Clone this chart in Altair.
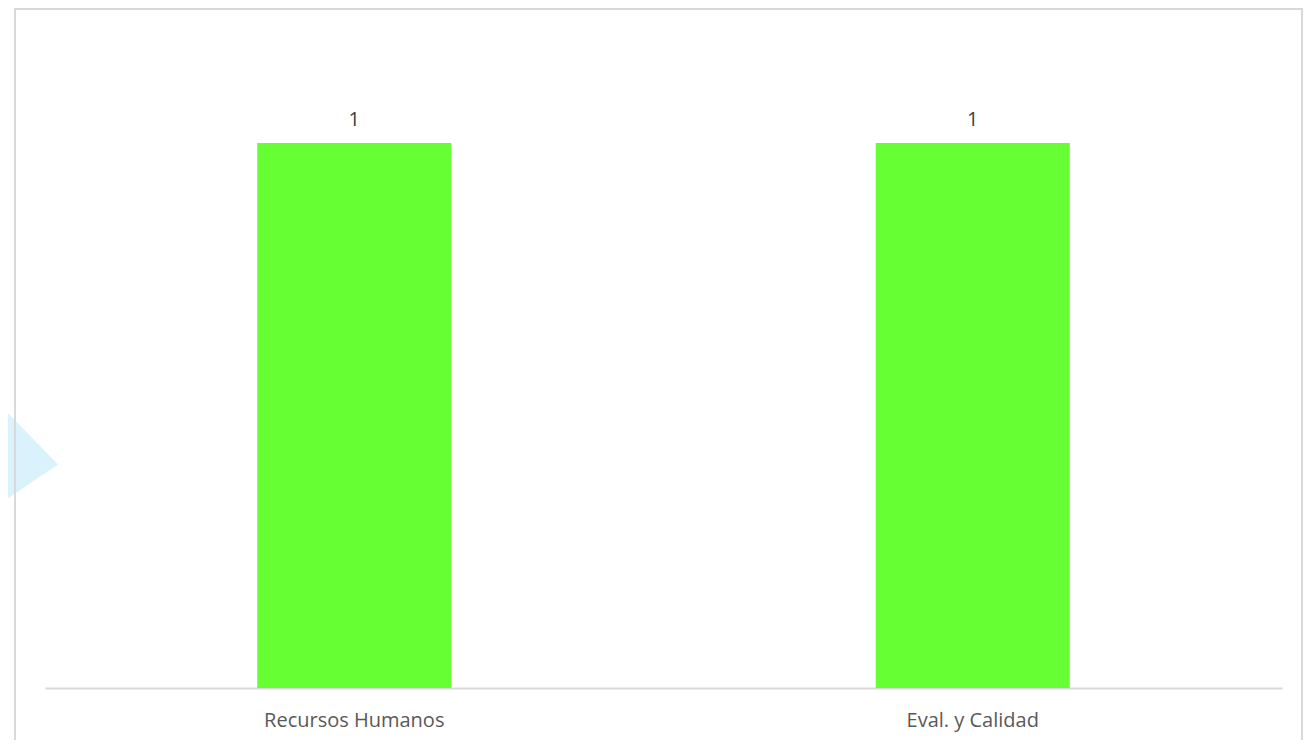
import altair as alt
import pandas as pd

categories = ["Recursos Humanos", "Eval. y Calidad"]
values = [1, 1]

df = pd.DataFrame({"cat": categories, "val": values})

W, H = 1237, 545
FONT = "Open Sans"

x = alt.X("cat:N", sort=categories, title=None,
          scale=alt.Scale(paddingInner=0, paddingOuter=0),
          axis=alt.Axis(labelAngle=0, labelFont=FONT, labelFontSize=20,
                        labelColor="#595959", labelPadding=22, ticks=False,
                        labelLimit=0,
                        domainColor="#d9d9d9", domainWidth=2, labelBaseline="top"))
y = alt.Y("val:Q", title=None, scale=alt.Scale(domain=[0, 1]), axis=None)

base = alt.Chart(df)

bars = base.mark_bar(color="#66FF33", size=194).encode(x=x, y=y)
labels = base.mark_text(font=FONT, fontSize=20, color="#404040", dy=-17,
                        baseline="alphabetic").encode(x=x, y=y, text="val:Q")

border = alt.Chart(pd.DataFrame({"k": [0]})).mark_rect(
    fill=None, stroke="#d9d9d9", strokeWidth=2).encode(
    x=alt.value(-30), x2=alt.value(W + 20), y=alt.value(-134), y2=alt.value(H + 80))

wm = alt.Chart(pd.DataFrame({"k": [0]})).mark_point(
    shape="M-1,-1.8L1,0.25L-1,1.6Z", filled=True, color="#d3f0fb", opacity=0.85,
    size=10000, strokeWidth=0).encode(x=alt.value(-37), y=alt.value(309))

chart = alt.layer(wm, border, bars, labels).properties(
    width=W, height=H,
    autosize=alt.AutoSizeParams(type="none"),
    padding={"left": 37, "top": 135, "right": 23, "bottom": 52},
).configure(background="white").configure_view(strokeWidth=0, stroke=None)

chart.save("out.html", embed_options={"renderer": "svg", "actions": False})
